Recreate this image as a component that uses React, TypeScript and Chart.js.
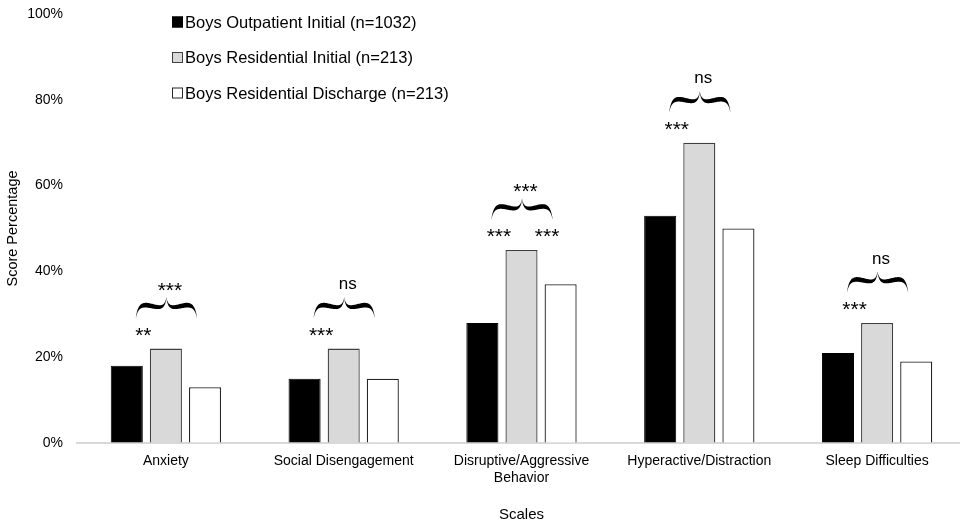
import React, { useEffect, useRef } from 'react';
import { Chart, registerables } from 'chart.js';

Chart.register(...registerables);

const categories: (string | string[])[] = [
  'Anxiety',
  'Social Disengagement',
  ['Disruptive/Aggressive', 'Behavior'],
  'Hyperactive/Distraction',
  'Sleep Difficulties',
];
const seriesLabels = [
  'Boys Outpatient Initial (n=1032)',
  'Boys Residential Initial (n=213)',
  'Boys Residential Discharge (n=213)',
];
const outpatientInitial = [18, 15, 28, 53, 21];
const residentialInitial = [22, 22, 45, 70, 28];
const residentialDischarge = [13, 15, 37, 50, 19];
const yTickValues = [0, 20, 40, 60, 80, 100];

// significance annotations per category
const leftStars = ['**', '***', '***', '***', '***'];
const braceLabels = ['***', 'ns', '***', 'ns', 'ns'];
const rightStars = ['', '', '***', '', ''];

const FONT = '"Liberation Sans", Arial, sans-serif';

function drawBrace(ctx: CanvasRenderingContext2D, xc: number, hw: number, yT: number, yB: number) {
  const h = yB - yT;
  const cub = (p: number[][], t: number) => {
    const u = 1 - t;
    return [
      u * u * u * p[0][0] + 3 * u * u * t * p[1][0] + 3 * u * t * t * p[2][0] + t * t * t * p[3][0],
      u * u * u * p[0][1] + 3 * u * u * t * p[1][1] + 3 * u * t * t * p[2][1] + t * t * t * p[3][1],
    ];
  };
  for (const dir of [-1, 1]) {
    const x1 = xc + dir * hw;
    const X = (f: number) => x1 - dir * f * hw;
    const segA = [[x1, yB], [X(0.06), yT + 0.45 * h], [X(0.18), yT + 0.36 * h], [X(0.36), yT + 0.38 * h]];
    const segB = [[X(0.36), yT + 0.38 * h], [X(0.65), yT + 0.42 * h], [xc + dir * 0.06 * hw, yT + 0.72 * h], [xc, yT]];
    const pts: number[][] = [];
    const ss: number[] = [];
    const N = 30;
    for (let i = 0; i <= N; i++) { pts.push(cub(segA, i / N)); ss.push(0.4 * i / N); }
    for (let i = 1; i <= N; i++) { pts.push(cub(segB, i / N)); ss.push(0.4 + 0.6 * i / N); }
    const upper: number[][] = [];
    const lower: number[][] = [];
    pts.forEach((p, i) => {
      const s = ss[i];
      const bump = s < 0.4 ? Math.sin((Math.PI / 2) * (s / 0.4)) : Math.cos((Math.PI / 2) * ((s - 0.4) / 0.6));
      const t = 0.9 + 3.8 * Math.pow(bump, 0.8);
      upper.push([p[0], p[1] - t / 2]);
      lower.push([p[0], p[1] + t / 2]);
    });
    ctx.beginPath();
    ctx.moveTo(upper[0][0], upper[0][1]);
    upper.forEach((p) => ctx.lineTo(p[0], p[1]));
    for (let i = lower.length - 1; i >= 0; i--) ctx.lineTo(lower[i][0], lower[i][1]);
    ctx.closePath();
    ctx.fillStyle = '#000';
    ctx.fill();
  }
}

const overlayPlugin = {
  id: 'overlay',
  afterDatasetsDraw(chart: any) {
    const ctx: CanvasRenderingContext2D = chart.ctx;
    const area = chart.chartArea;
    const m0 = chart.getDatasetMeta(0);
    const m1 = chart.getDatasetMeta(1);
    const m2 = chart.getDatasetMeta(2);
    ctx.save();
    for (let i = 0; i < categories.length; i++) {
      const b0 = m0.data[i];
      const b1 = m1.data[i];
      const b2 = m2.data[i];
      const G = b1.y;
      ctx.fillStyle = '#000';
      ctx.textAlign = 'center';
      ctx.textBaseline = 'alphabetic';
      ctx.font = `21px ${FONT}`;
      if (leftStars[i]) ctx.fillText(leftStars[i], (b0.x + b1.x) / 2 - 3, G - 19 + 12);
      if (rightStars[i]) ctx.fillText(rightStars[i], (b1.x + b2.x) / 2 + 6, G - 19 + 12);
      drawBrace(ctx, b1.x + 0.5, 30.5, G - 51, G - 31);
      const lab = braceLabels[i];
      if (lab === 'ns') {
        ctx.font = `17px ${FONT}`;
        ctx.textBaseline = 'middle';
        ctx.fillText(lab, b1.x + 4, G - 64);
      } else {
        ctx.font = `21px ${FONT}`;
        ctx.textBaseline = 'alphabetic';
        ctx.fillText(lab, b1.x + 4, G - 64 + 12);
      }
    }
    // legend
    const lx = area.left + 95;
    const ly0 = area.top + 8;
    const dsArr = chart.data.datasets;
    ctx.font = `16.5px ${FONT}`;
    ctx.textAlign = 'left';
    ctx.textBaseline = 'middle';
    dsArr.forEach((ds: any, k: number) => {
      const cy = ly0 + k * 35.5;
      ctx.fillStyle = ds.backgroundColor;
      ctx.fillRect(lx, cy - 5.5, 11, 11);
      ctx.strokeStyle = ds.borderColor;
      ctx.lineWidth = 1;
      ctx.strokeRect(lx + 0.5, cy - 5, 10, 10);
      ctx.fillStyle = '#000';
      ctx.fillText(ds.label, lx + 13, cy + 1);
    });
    ctx.restore();
  },
};

export default function App() {
  const ref = useRef<HTMLCanvasElement>(null);
  useEffect(() => {
    if (!ref.current) return;
    const chart = new Chart(ref.current, {
      type: 'bar',
      data: {
        labels: categories as any,
        datasets: [
          { label: seriesLabels[0], data: outpatientInitial, backgroundColor: '#000000', borderColor: '#000000', borderWidth: 1 },
          { label: seriesLabels[1], data: residentialInitial, backgroundColor: '#d9d9d9', borderColor: '#404040', borderWidth: 1.3 },
          { label: seriesLabels[2], data: residentialDischarge, backgroundColor: '#ffffff', borderColor: '#262626', borderWidth: 1.3 },
        ],
      },
      options: {
        responsive: false,
        animation: false,
        events: [],
        layout: { padding: { top: 14, right: 4, left: 0, bottom: 0 } },
        datasets: { bar: { categoryPercentage: 0.66, barPercentage: 0.82 } },
        plugins: {
          legend: { display: false },
          tooltip: { enabled: false },
        },
        scales: {
          x: {
            grid: { display: false, drawTicks: false },
            border: { display: true, color: '#d9d9d9', width: 2 },
            ticks: { color: '#000', font: { family: FONT, size: 14 }, padding: 10, maxRotation: 0, autoSkip: false },
            title: { display: true, text: 'Scales', color: '#000', font: { family: FONT, size: 15 }, padding: { top: 4, bottom: 0 } },
            afterFit: (s: any) => { s.height = 81; },
          },
          y: {
            min: 0,
            max: 100,
            afterBuildTicks: (s: any) => { s.ticks = yTickValues.map((v) => ({ value: v })); },
            grid: { display: true, drawOnChartArea: false, drawTicks: true, tickLength: 11, color: 'rgba(0,0,0,0)' },
            border: { display: false },
            ticks: { color: '#000', font: { family: FONT, size: 14 }, padding: 3, callback: (v: any) => `${v}%` },
            title: { display: true, text: 'Score Percentage', color: '#000', font: { family: FONT, size: 14.5 }, padding: { top: 4, bottom: 4 } },
            afterFit: (s: any) => { s.width = 77; },
          },
        },
      },
      plugins: [overlayPlugin],
    });
    return () => chart.destroy();
  }, []);
  return (
    <div style={{ position: 'fixed', left: 0, top: 0, width: 960, height: 524, overflow: 'hidden', background: '#fff' }}>
      <canvas ref={ref} width={970} height={524} />
    </div>
  );
}
